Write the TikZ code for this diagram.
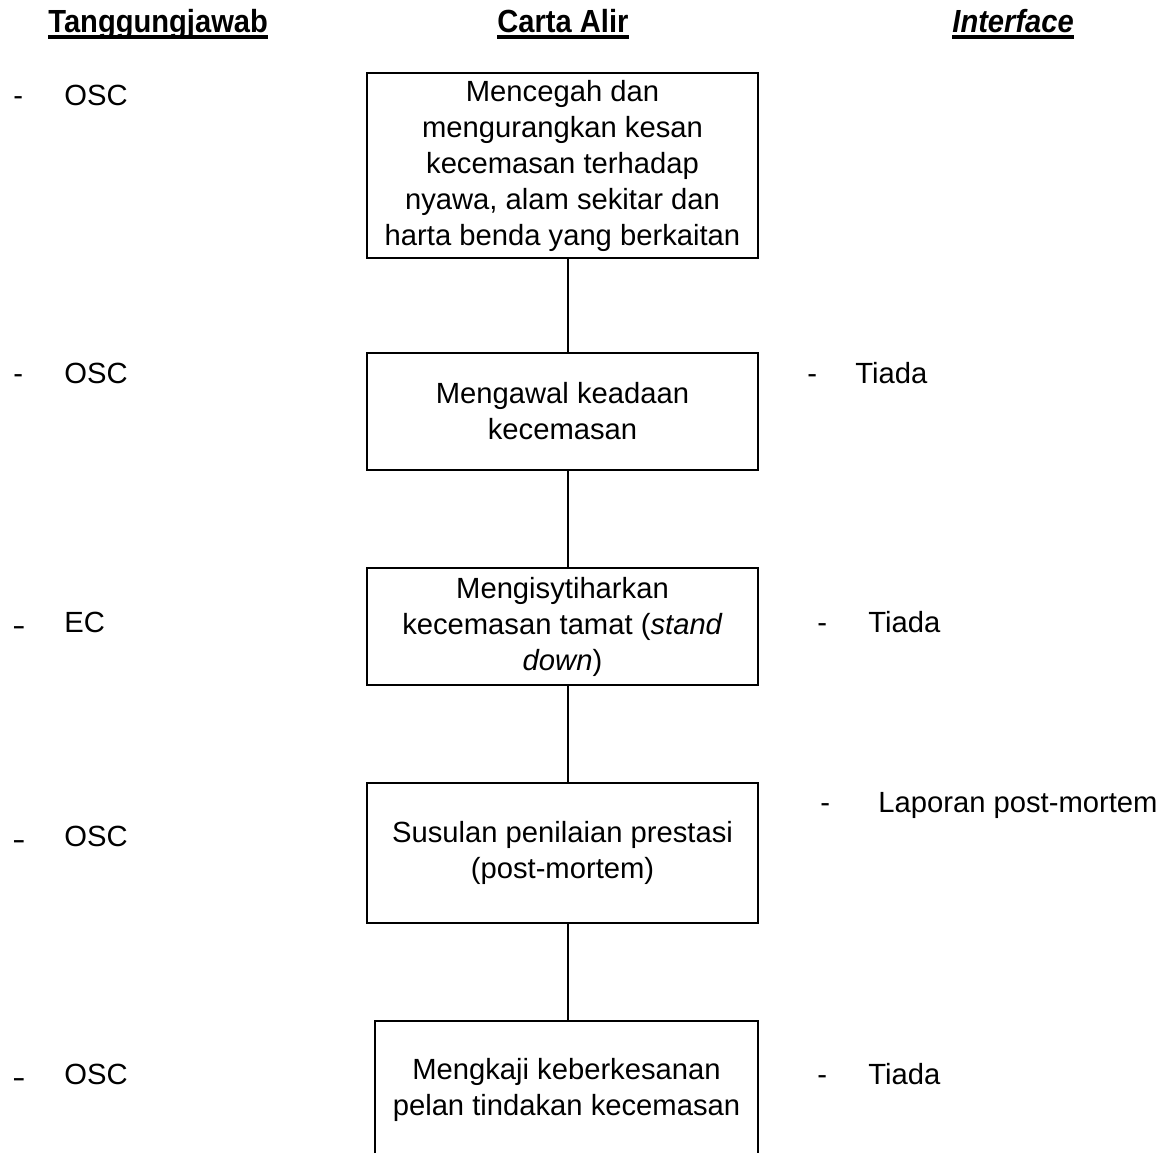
\documentclass[tikz,border=0pt]{standalone}
\usepackage{graphicx}
\usepackage{fontspec}
\setmainfont{Liberation Sans}
\newcommand{\hdrtext}[1]{\scalebox{0.91}[1]{#1}}
\newcommand{\longdash}{\raisebox{-1.5pt}{\scalebox{1.35}[1]{-}}}
\begin{document}
\begin{tikzpicture}[x=0.5pt,y=-0.5pt,
  txt/.style={font=\fontsize{14.6pt}{18pt}\selectfont},
  box/.style={txt, draw, line width=1pt, align=center, inner sep=0pt, minimum width=195.5pt},
  openbox/.style={txt, align=center, inner sep=0pt, minimum width=191.5pt, minimum height=69pt},
  lbl/.style={txt, anchor=base west, inner sep=0pt},
  hdr/.style={anchor=base west, inner sep=0pt, font=\fontsize{16pt}{18pt}\selectfont\bfseries},
  uline/.style={line width=1.7pt},
  conn/.style={line width=1pt}]
\useasboundingbox (0,0) rectangle (1168,1153);
\coordinate (cx) at (568,0);
\coordinate (bot) at (0,1153);

% headers
\node[hdr] (h1) at (48,32) {\hdrtext{Tanggungjawab}};
\node[hdr] (h2) at (497,32) {\hdrtext{Carta Alir}};
\node[hdr, font=\fontsize{16pt}{18pt}\selectfont\bfseries\itshape] (h3) at (952,32) {\hdrtext{Interface}};
\foreach \h in {h1,h2,h3}
  \draw[uline] ([yshift=-2.4pt]\h.base west) -- ([yshift=-2.4pt]\h.base east);

% boxes
\node[box, minimum height=92.5pt] (b1) at (562.5,165.5) {Mencegah dan\\mengurangkan kesan\\kecemasan terhadap\\nyawa, alam sekitar dan\\harta benda yang berkaitan};
\node[box, minimum height=58.5pt] (b2) at (562.5,411.5) {Mengawal keadaan\\kecemasan};
\node[box, minimum height=58.5pt] (b3) at (562.5,626.5) {Mengisytiharkan\\kecemasan tamat (\textit{stand}\\\textit{down})};
\node[box, minimum height=70pt] (b4) at (562.5,853) {Susulan penilaian prestasi\\(post-mortem)};
\node[openbox] (b5) at (566.5,1090) {Mengkaji keberkesanan\\pelan tindakan kecemasan};
\draw[conn] (b5.north west |- bot) -- (b5.north west) -- (b5.north east) -- (b5.north east |- bot);

% connectors
\draw[conn] (b1.south -| cx) -- (b2.north -| cx);
\draw[conn] (b2.south -| cx) -- (b3.north -| cx);
\draw[conn] (b3.south -| cx) -- (b4.north -| cx);
\draw[conn] (b4.south -| cx) -- (b5.north -| cx);

% left column
\node[lbl] (ld1) at (13,105) {-};
\node[lbl] (l1) at (64,105) {OSC};
\node[lbl] (ld2) at (13,383) {-};
\node[lbl] (l2) at (64,383) {OSC};
\node[lbl] (ld3) at (12,632) {\longdash};
\node[lbl] (l3) at (64,632) {EC};
\node[lbl] (ld4) at (12,846) {\longdash};
\node[lbl] (l4) at (64,846) {OSC};
\node[lbl] (ld5) at (12,1084) {\longdash};
\node[lbl] (l5) at (64,1084) {OSC};

% right column
\node[lbl] (rd2) at (807,383) {-};
\node[lbl] (r2) at (855,383) {Tiada};
\node[lbl] (rd3) at (817,632) {-};
\node[lbl] (r3) at (868,632) {Tiada};
\node[lbl] (rd4) at (820,812) {-};
\node[lbl] (r4) at (878,812) {Laporan post-mortem};
\node[lbl] (rd5) at (817,1084) {-};
\node[lbl] (r5) at (868,1084) {Tiada};
\end{tikzpicture}
\end{document}
